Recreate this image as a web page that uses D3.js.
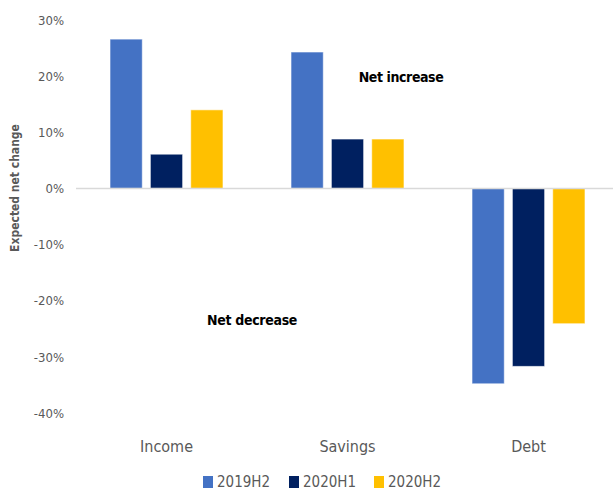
<!DOCTYPE html>
<html>
<head>
<meta charset="utf-8">
<script src="https://cdn.jsdelivr.net/npm/d3@7/dist/d3.min.js"></script>
<style>
  html, body { margin: 0; padding: 0; background: #fff; }
  svg { display: block; }
  text { font-family: "DejaVu Sans Condensed", "Liberation Sans", sans-serif; }
</style>
</head>
<body>
<svg id="chart" width="613" height="491"></svg>
<script>
const categories = ["Income", "Savings", "Debt"];
const seriesNames = ["2019H2", "2020H1", "2020H2"];
const values2019H2 = [26.6, 24.3, -34.8];
const values2020H1 = [6.1, 8.8, -31.7];
const values2020H2 = [14.0, 8.8, -24.1];
const yTicks = [30, 20, 10, 0, -10, -20, -30, -40];
const colors = ["#4472C4", "#002060", "#FFC000"];

const seriesValues = [values2019H2, values2020H1, values2020H2];

const svg = d3.select("#chart");
const W = 613, H = 491;

const y = d3.scaleLinear().domain([-40, 30]).range([413, 20]);
const x0 = d3.scaleBand().domain(categories).range([76, 619]).paddingInner(0).paddingOuter(0);
const x1 = d3.scaleBand().domain(seriesNames).range([34, x0.bandwidth() - 34]).paddingInner(0.2).paddingOuter(0);

// y tick labels
const yAxis = d3.axisLeft(y).tickValues(yTicks).tickSize(0).tickPadding(0)
  .tickFormat(d => d + "%");
svg.append("g")
  .attr("transform", "translate(64,0)")
  .call(yAxis)
  .call(g => g.select(".domain").remove())
  .call(g => g.selectAll("text")
    .attr("fill", "#595959")
    .style("font-size", "13px"));

// bars
const groups = svg.append("g").selectAll("g")
  .data(categories)
  .join("g")
  .attr("transform", d => `translate(${x0(d)},0)`);

groups.selectAll("rect")
  .data((c, ci) => seriesNames.map((s, si) => ({ s, si, v: seriesValues[si][ci] })))
  .join("rect")
  .attr("x", d => x1(d.s))
  .attr("width", x1.bandwidth())
  .attr("y", d => y(Math.max(0, d.v)))
  .attr("height", d => Math.abs(y(d.v) - y(0)))
  .attr("fill", d => colors[d.si])
  .attr("stroke", "rgba(255,255,255,0.6)")
  .attr("stroke-width", 1);

// zero line
svg.append("line")
  .attr("x1", 76).attr("x2", W)
  .attr("y1", y(0)).attr("y2", y(0))
  .attr("stroke", "#d9d9d9").attr("stroke-width", 1.5);

// category labels
const xAxis = d3.axisBottom(x0).tickSize(0).tickPadding(0);
svg.append("g")
  .attr("transform", "translate(0,452)")
  .call(xAxis)
  .call(g => g.select(".domain").remove())
  .call(g => g.selectAll("text")
    .attr("fill", "#595959")
    .attr("y", 0)
    .attr("dy", 0)
    .style("font-size", "16px"));

// y axis title
svg.append("text")
  .attr("transform", "translate(19,188) rotate(-90)")
  .attr("text-anchor", "middle")
  .attr("fill", "#595959")
  .style("font-size", "12px")
  .style("font-weight", "bold")
  .text("Expected net change");

// annotations
svg.append("text")
  .attr("x", 401).attr("y", 82)
  .attr("text-anchor", "middle")
  .attr("fill", "#000")
  .style("font-size", "14px").style("font-weight", "bold")
  .style("letter-spacing", "-0.4px")
  .text("Net increase");
svg.append("text")
  .attr("x", 252).attr("y", 325)
  .attr("text-anchor", "middle")
  .attr("fill", "#000")
  .style("font-size", "14px").style("font-weight", "bold")
  .style("letter-spacing", "-0.3px")
  .text("Net decrease");

// legend
const legendX = [203, 289, 374];
const legend = svg.append("g").selectAll("g")
  .data(seriesNames)
  .join("g")
  .attr("transform", (d, i) => `translate(${legendX[i]},482)`);
legend.append("rect")
  .attr("x", 0).attr("y", -6)
  .attr("width", 10).attr("height", 12)
  .attr("fill", (d, i) => colors[i]);
legend.append("text")
  .attr("x", 14).attr("y", 0)
  .attr("dy", "0.36em")
  .attr("fill", "#595959")
  .style("font-size", "15px")
  .text(d => d);
</script>
</body>
</html>
